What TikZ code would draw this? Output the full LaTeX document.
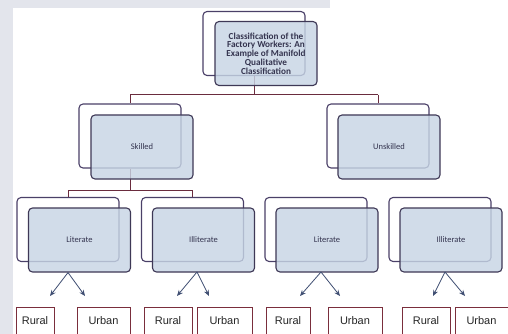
\documentclass[tikz,border=0pt]{standalone}
\usepackage{fontspec}
\setmainfont{Carlito}
\newfontfamily\arialfont{Liberation Sans}
\usetikzlibrary{arrows.meta}
\definecolor{boxfill}{HTML}{C7D5E5}
\definecolor{boxline}{HTML}{3E3856}
\definecolor{backline}{HTML}{4A4068}
\definecolor{linkred}{HTML}{6A2C3E}
\definecolor{arrowcol}{HTML}{3F4E72}
\definecolor{leafline}{HTML}{7A2E3C}
\definecolor{labeltext}{HTML}{34344F}
\definecolor{pagegray}{HTML}{E3E5EC}
\begin{document}
\begin{tikzpicture}[x=1pt,y=-1pt,
  backbox/.style={draw=backline, line width=1.1pt, rounded corners=4pt, fill=white,
    minimum width=102pt, minimum height=64pt, inner sep=0pt},
  frontbox/.style={draw=boxline, line width=1.1pt, rounded corners=4pt, fill=boxfill,
    fill opacity=0.82, text opacity=1, minimum width=102pt, minimum height=64pt,
    inner sep=0pt, text=labeltext, font=\fontsize{8.5}{9}\selectfont},
  titletext/.style={align=center, font=\bfseries\fontsize{9.2}{8.8}\selectfont, text=labeltext},
  link/.style={draw=linkred, line width=1pt},
  pointer/.style={draw=arrowcol, line width=0.8pt, -{Stealth[length=6pt,width=5pt]}},
  leaf/.style={draw=leafline, line width=1pt, fill=white, minimum height=44pt,
    inner sep=0pt},
  leaftext/.style={font=\arialfont\fontsize{11}{12}\selectfont, text=black!85}
]
\clip (0,0) rectangle (508,334);
\fill[white] (0,0) rectangle (508,334);
% page margins
\fill[pagegray] (0,0) rectangle (13,334);
\fill[pagegray] (0,0) rectangle (330,8);

% back frames
\node[backbox] (topb) at (254,43.5) {};
\node[backbox] (skb) at (130,136) {};
\node[backbox] (unb) at (378,136) {};
\node[backbox] (l1b) at (68,229.5) {};
\node[backbox] (i1b) at (192.5,229.5) {};
\node[backbox] (l2b) at (316,229.5) {};
\node[backbox] (i2b) at (440,229.5) {};

% hierarchy links
\coordinate (j0) at (254,95);
\coordinate (j1) at (130,190);
\draw[link] (topb.south) -- (j0);
\draw[link] (j0 -| skb.north) -- (j0 -| unb.north);
\draw[link] (j0 -| skb.north) -- (skb.north);
\draw[link] (j0 -| unb.north) -- (unb.north);
\draw[link] (skb.south) -- (j1);
\draw[link] (j1 -| l1b.north) -- (j1 -| i1b.north);
\draw[link] (j1 -| l1b.north) -- (l1b.north);
\draw[link] (j1 -| i1b.north) -- (i1b.north);

% front boxes
\node[frontbox] (topf) at (266,53.5) {};
\node[titletext] (title) at (topf.center) {Classification of the\\Factory Workers: An\\Example of Manifold\\Qualitative\\Classification};
\node[frontbox] (skf) at (142,147) {Skilled};
\node[frontbox] (unf) at (389,147) {Unskilled};
\node[frontbox] (l1f) at (79.5,240) {Literate};
\node[frontbox] (i1f) at (203.5,240) {Illiterate};
\node[frontbox] (l2f) at (327,240) {Literate};
\node[frontbox] (i2f) at (451,240) {Illiterate};

% leaves
\node[leaf, minimum width=38pt] (r1) at (35,329) {};
\node[leaf, minimum width=53pt] (u1) at (103.5,329) {};
\node[leaf, minimum width=48pt] (r2) at (168,329) {};
\node[leaf, minimum width=55pt] (u2) at (224.5,329) {};
\node[leaf, minimum width=44pt] (r3) at (288,329) {};
\node[leaf, minimum width=54pt] (u3) at (355,329) {};
\node[leaf, minimum width=48pt] (r4) at (426,329) {};
\node[leaf, minimum width=53pt] (u4) at (481.5,329) {};
\foreach \n/\t in {r1/Rural,u1/Urban,r2/Rural,u2/Urban,r3/Rural,u3/Urban,r4/Rural,u4/Urban}
  \node[leaftext] (\n t) at ([yshift=8pt]\n.center) {\t};

% arrows from the literacy boxes
\coordinate (a1) at (l1b.south |- l1f.south);
\coordinate (a2) at (197,272);
\coordinate (a3) at (321,272);
\coordinate (a4) at (445,272);
\coordinate (t1) at (50,296);  \coordinate (t2) at (85,296);
\coordinate (t3) at (177,296); \coordinate (t4) at (209,296);
\coordinate (t5) at (300,296); \coordinate (t6) at (340,296);
\coordinate (t7) at (433,296); \coordinate (t8) at (465,296);
\draw[pointer] (a1) -- (t1);
\draw[pointer] (a1) -- (t2);
\draw[pointer] (a2) -- (t3);
\draw[pointer] (a2) -- (t4);
\draw[pointer] (a3) -- (t5);
\draw[pointer] (a3) -- (t6);
\draw[pointer] (a4) -- (t7);
\draw[pointer] (a4) -- (t8);
\end{tikzpicture}
\end{document}
